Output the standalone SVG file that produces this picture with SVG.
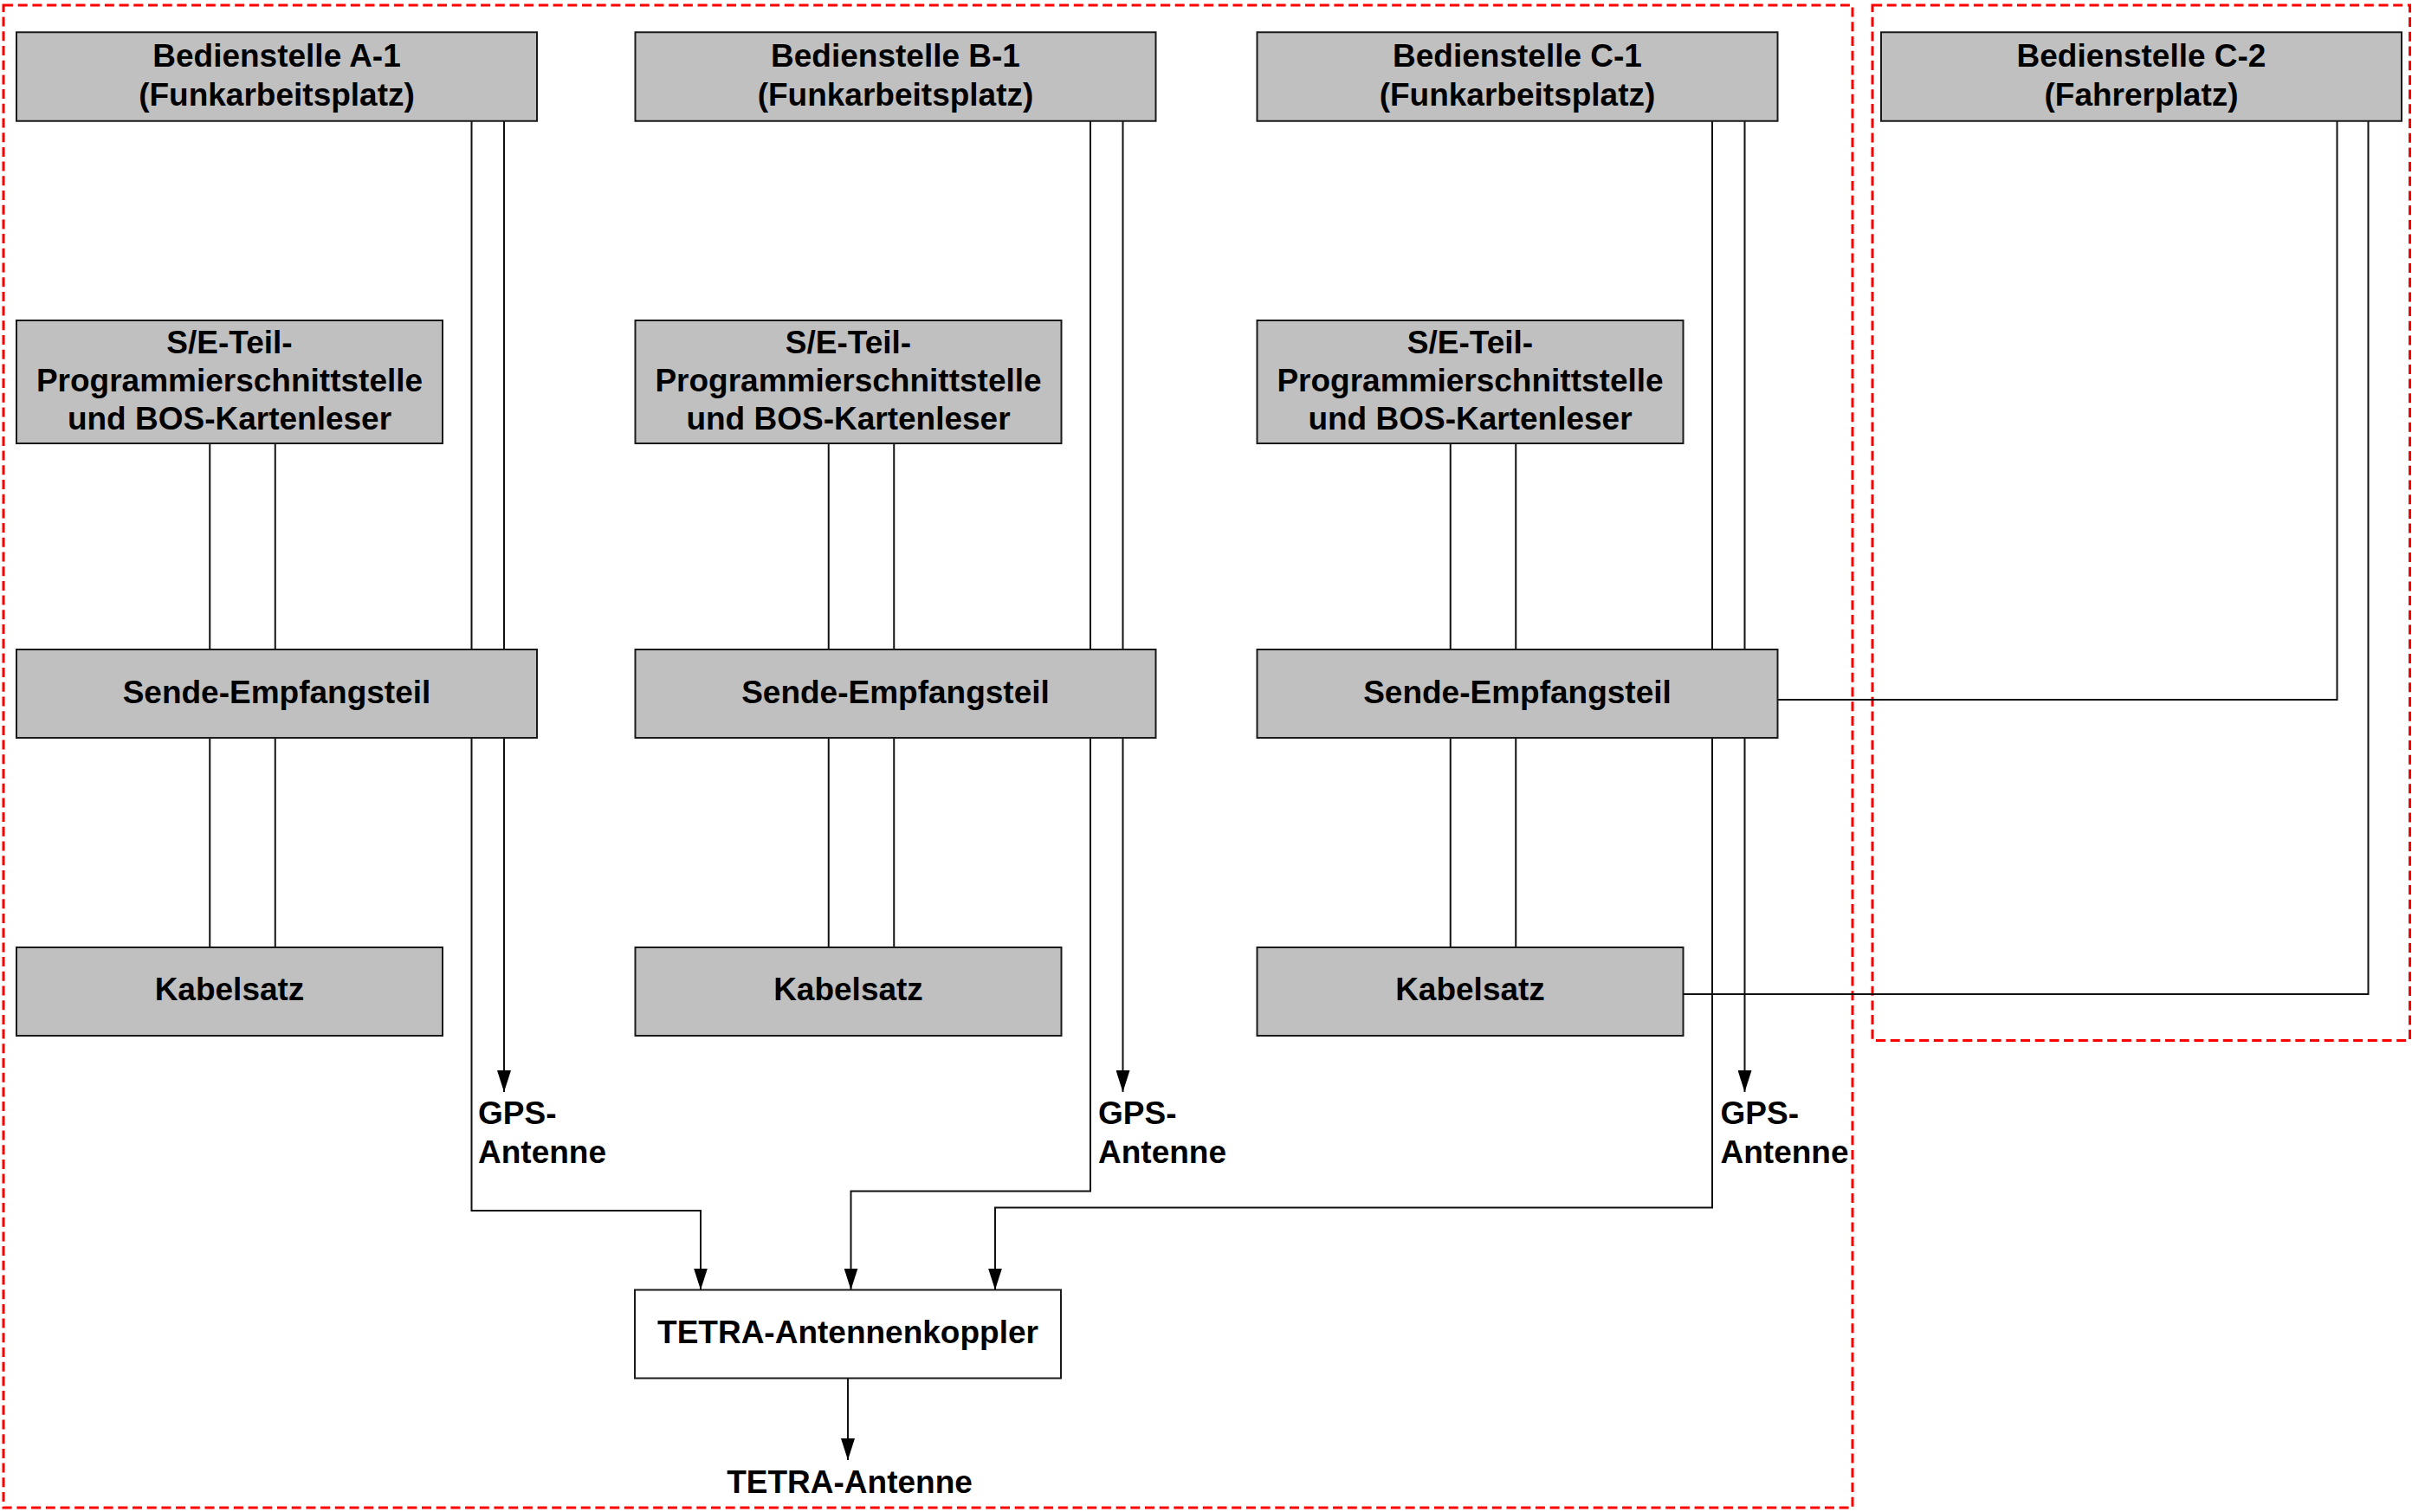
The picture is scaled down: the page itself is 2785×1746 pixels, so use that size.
<svg xmlns="http://www.w3.org/2000/svg" width="2785" height="1746" viewBox="0 0 2785 1746">
<defs>
<style>
.box{fill:#c0c0c0;stroke:#1a1a1a;stroke-width:2}
.wbox{fill:#ffffff;stroke:#1a1a1a;stroke-width:2}
.t{font-family:"Liberation Sans",Arial,Helvetica,sans-serif;font-weight:bold;font-size:37px;fill:#000;text-anchor:middle}
.ts{font-family:"Liberation Sans",Arial,Helvetica,sans-serif;font-weight:bold;font-size:37px;fill:#000;text-anchor:start}
.ln{fill:none;stroke:#111;stroke-width:2}
.arr{fill:none;stroke:#111;stroke-width:2;marker-end:url(#ah)}
.grp{fill:none;stroke:#ff0000;stroke-width:3;stroke-dasharray:11 5.7}
</style>
<marker id="ah" markerUnits="userSpaceOnUse" markerWidth="26" markerHeight="16" refX="25" refY="8" orient="auto">
<path d="M0,0 L25,8 L0,16 z" fill="#000"/>
</marker>
</defs>
<rect width="2785" height="1746" fill="#ffffff"/>

<g id="groups">
<rect class="grp" x="4" y="6" width="2135" height="1735"/>
<rect class="grp" x="2162" y="6" width="620.5" height="1195.5"/>
</g>

<g id="connectors">
<!-- Column A -->
<line class="ln" x1="544.5" y1="139.5" x2="544.5" y2="750"/>
<line class="ln" x1="582" y1="139.5" x2="582" y2="750"/>
<line class="ln" x1="242.25" y1="512" x2="242.25" y2="750"/>
<line class="ln" x1="317.75" y1="512" x2="317.75" y2="750"/>
<line class="ln" x1="242.25" y1="852" x2="242.25" y2="1094"/>
<line class="ln" x1="317.75" y1="852" x2="317.75" y2="1094"/>
<path class="arr" d="M582,852 L582,1261"/>
<path class="arr" d="M544.5,852 L544.5,1398 L809,1398 L809,1489.5"/>
<!-- Column B -->
<line class="ln" x1="1259" y1="139.5" x2="1259" y2="750"/>
<line class="ln" x1="1296.5" y1="139.5" x2="1296.5" y2="750"/>
<line class="ln" x1="956.75" y1="512" x2="956.75" y2="750"/>
<line class="ln" x1="1032.25" y1="512" x2="1032.25" y2="750"/>
<line class="ln" x1="956.75" y1="852" x2="956.75" y2="1094"/>
<line class="ln" x1="1032.25" y1="852" x2="1032.25" y2="1094"/>
<path class="arr" d="M1296.5,852 L1296.5,1261"/>
<path class="arr" d="M1259,852 L1259,1375.5 L982.5,1375.5 L982.5,1489.5"/>
<!-- Column C -->
<line class="ln" x1="1977" y1="139.5" x2="1977" y2="750"/>
<line class="ln" x1="2014.5" y1="139.5" x2="2014.5" y2="750"/>
<line class="ln" x1="1674.75" y1="512" x2="1674.75" y2="750"/>
<line class="ln" x1="1750.25" y1="512" x2="1750.25" y2="750"/>
<line class="ln" x1="1674.75" y1="852" x2="1674.75" y2="1094"/>
<line class="ln" x1="1750.25" y1="852" x2="1750.25" y2="1094"/>
<path class="arr" d="M2014.5,852 L2014.5,1261"/>
<path class="arr" d="M1977,852 L1977,1394.5 L1149,1394.5 L1149,1489.5"/>
<!-- C-2 -->
<path class="ln" d="M2698.5,139.5 L2698.5,808 L2052.5,808"/>
<path class="ln" d="M2734.5,139.5 L2734.5,1148 L1943.5,1148"/>
<!-- Koppler to antenna -->
<path class="arr" d="M979,1591.5 L979,1686"/>
</g>

<g id="bedienstelle-a1">
<rect class="box" x="19" y="37.25" width="601" height="102.5"/>
<text class="t" x="319.5" y="76.5">Bedienstelle A-1</text>
<text class="t" x="319.5" y="121.5">(Funkarbeitsplatz)</text>
</g>
<g id="se-teil-a">
<rect class="box" x="19" y="370" width="492" height="142"/>
<text class="t" x="265" y="408">S/E-Teil-</text>
<text class="t" x="265" y="452">Programmierschnittstelle</text>
<text class="t" x="265" y="496">und BOS-Kartenleser</text>
</g>
<g id="sende-a">
<rect class="box" x="19" y="750" width="601" height="102"/>
<text class="t" x="319.5" y="812">Sende-Empfangsteil</text>
</g>
<g id="kabelsatz-a">
<rect class="box" x="19" y="1094" width="492" height="102"/>
<text class="t" x="265" y="1155">Kabelsatz</text>
</g>
<g id="gps-a">
<text class="ts" x="552" y="1297.5">GPS-</text>
<text class="ts" x="552" y="1342.5">Antenne</text>
</g>

<g id="bedienstelle-b1">
<rect class="box" x="733.5" y="37.25" width="601" height="102.5"/>
<text class="t" x="1034" y="76.5">Bedienstelle B-1</text>
<text class="t" x="1034" y="121.5">(Funkarbeitsplatz)</text>
</g>
<g id="se-teil-b">
<rect class="box" x="733.5" y="370" width="492" height="142"/>
<text class="t" x="979.5" y="408">S/E-Teil-</text>
<text class="t" x="979.5" y="452">Programmierschnittstelle</text>
<text class="t" x="979.5" y="496">und BOS-Kartenleser</text>
</g>
<g id="sende-b">
<rect class="box" x="733.5" y="750" width="601" height="102"/>
<text class="t" x="1034" y="812">Sende-Empfangsteil</text>
</g>
<g id="kabelsatz-b">
<rect class="box" x="733.5" y="1094" width="492" height="102"/>
<text class="t" x="979.5" y="1155">Kabelsatz</text>
</g>
<g id="gps-b">
<text class="ts" x="1268" y="1297.5">GPS-</text>
<text class="ts" x="1268" y="1342.5">Antenne</text>
</g>

<g id="bedienstelle-c1">
<rect class="box" x="1451.5" y="37.25" width="601" height="102.5"/>
<text class="t" x="1752" y="76.5">Bedienstelle C-1</text>
<text class="t" x="1752" y="121.5">(Funkarbeitsplatz)</text>
</g>
<g id="se-teil-c">
<rect class="box" x="1451.5" y="370" width="492" height="142"/>
<text class="t" x="1697.5" y="408">S/E-Teil-</text>
<text class="t" x="1697.5" y="452">Programmierschnittstelle</text>
<text class="t" x="1697.5" y="496">und BOS-Kartenleser</text>
</g>
<g id="sende-c">
<rect class="box" x="1451.5" y="750" width="601" height="102"/>
<text class="t" x="1752" y="812">Sende-Empfangsteil</text>
</g>
<g id="kabelsatz-c">
<rect class="box" x="1451.5" y="1094" width="492" height="102"/>
<text class="t" x="1697.5" y="1155">Kabelsatz</text>
</g>
<g id="gps-c">
<text class="ts" x="1986.5" y="1297.5">GPS-</text>
<text class="ts" x="1986.5" y="1342.5">Antenne</text>
</g>

<g id="bedienstelle-c2">
<rect class="box" x="2172" y="37.25" width="601" height="102.5"/>
<text class="t" x="2472.5" y="76.5">Bedienstelle C-2</text>
<text class="t" x="2472.5" y="121.5">(Fahrerplatz)</text>
</g>

<g id="tetra-antennenkoppler">
<rect class="wbox" x="733" y="1489.5" width="492" height="102"/>
<text class="t" x="979" y="1551">TETRA-Antennenkoppler</text>
</g>
<g id="tetra-antenne">
<text class="t" x="981" y="1724">TETRA-Antenne</text>
</g>
</svg>
